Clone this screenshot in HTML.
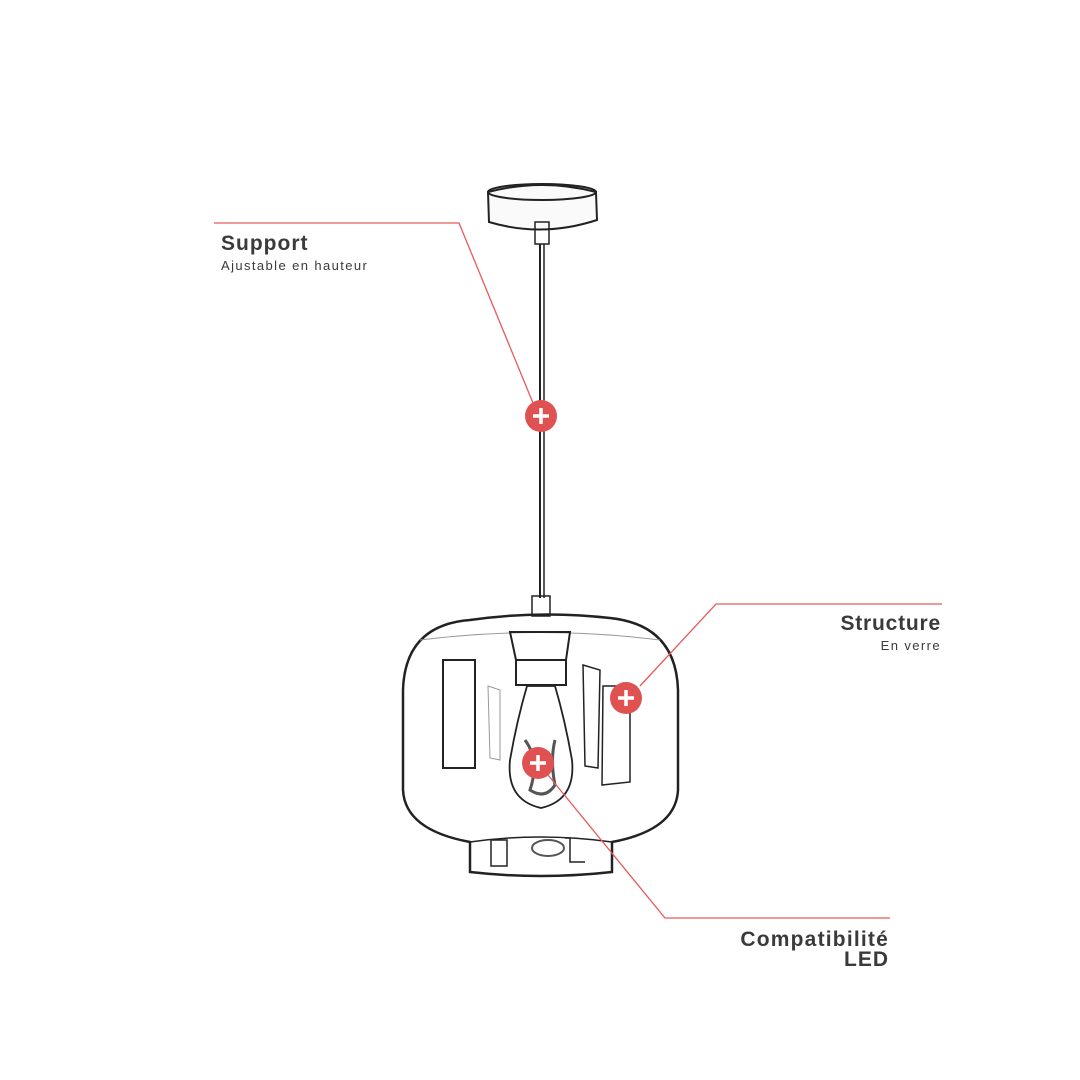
<!DOCTYPE html>
<html><head><meta charset="utf-8"><style>
html,body{margin:0;padding:0;background:#fff;}
svg{display:block}
text{font-family:"Liberation Sans",sans-serif;fill:#3a3a3a}
</style></head><body>
<svg width="1080" height="1080" viewBox="0 0 1080 1080" xmlns="http://www.w3.org/2000/svg">
<rect width="1080" height="1080" fill="#fff"/>
<g fill="none" stroke="#222" stroke-width="2">
 <path d="M488 192 Q542 178 596 192 L597 220 Q542 238 489 222 Z" fill="#fafafa"/>
 <ellipse cx="542" cy="192" rx="54" ry="8"/>
 <rect x="535" y="222" width="14" height="22" stroke-width="1.5"/>
 <line x1="540" y1="244" x2="540" y2="598" stroke-width="2"/>
 <line x1="544" y1="244" x2="544" y2="598" stroke-width="1.5"/>
 <rect x="532" y="596" width="18" height="20" stroke-width="1.5"/>
 <path d="M470 620 Q540 610 610 618 Q676 625 678 690 L678 790 Q676 830 612 842 L612 872 Q540 880 470 872 L470 842 Q405 830 403 790 L403 690 Q405 625 470 620 Z" stroke-width="2.5"/>
 <path d="M470 842 Q540 832 612 842" stroke-width="1.5"/>
 <path d="M420 640 Q540 625 660 640" stroke="#999" stroke-width="1"/>
 <rect x="443" y="660" width="32" height="108" stroke-width="2"/>
 <path d="M583 665 L600 670 L598 768 L585 766 Z" stroke-width="1.5"/>
 <path d="M603 686 L630 686 L630 782 L602 785 Z" stroke-width="1.5"/>
 <path d="M488 686 L500 690 L500 760 L490 758 Z" stroke="#999" stroke-width="1"/>
 <rect x="491" y="840" width="16" height="26" stroke-width="1.5"/>
 <path d="M565 838 L570 838 L570 862 L585 862" stroke-width="1.5"/>
 <path d="M510 632 L570 632 L566 660 L516 660 Z" stroke-width="2"/>
 <rect x="516" y="660" width="50" height="25" stroke-width="2"/>
 <path d="M527 686 L555 686 Q565 720 572 760 Q576 800 541 808 Q506 800 510 760 Q517 720 527 686 Z" stroke-width="1.8"/>
 <path d="M525 740 Q540 760 530 790 Q545 800 555 785 Q550 760 555 740" stroke="#555" stroke-width="3"/>
 <ellipse cx="548" cy="848" rx="16" ry="8" stroke="#555" stroke-width="2"/>
</g>
<g fill="none" stroke="#e85a5a" stroke-width="1.3">
 <polyline points="214,223 459,223 533,403"/>
 <polyline points="640,686 716,604 942,604"/>
 <polyline points="548,775 665,918 890,918"/>
</g>
<g fill="#e05252">
 <circle cx="541" cy="416" r="16"/>
 <circle cx="626" cy="698" r="16"/>
 <circle cx="538" cy="763" r="16"/>
</g>
<g stroke="#fff" stroke-width="3.5">
 <line x1="533" y1="416" x2="549" y2="416"/><line x1="541" y1="408" x2="541" y2="424"/>
 <line x1="618" y1="698" x2="634" y2="698"/><line x1="626" y1="690" x2="626" y2="706"/>
 <line x1="530" y1="763" x2="546" y2="763"/><line x1="538" y1="755" x2="538" y2="771"/>
</g>
<text x="221" y="250" font-size="21" font-weight="bold" letter-spacing="1">Support</text>
<text x="221" y="270" font-size="13" letter-spacing="1.4">Ajustable en hauteur</text>
<text x="941" y="630" font-size="21" font-weight="bold" text-anchor="end" letter-spacing="0.8">Structure</text>
<text x="941" y="650" font-size="13" text-anchor="end" letter-spacing="1.4">En verre</text>
<text x="889" y="946" font-size="21" font-weight="bold" text-anchor="end" letter-spacing="1.2">Compatibilité</text>
<text x="889" y="966" font-size="21" font-weight="bold" text-anchor="end" letter-spacing="1">LED</text>
</svg>
</body></html>
